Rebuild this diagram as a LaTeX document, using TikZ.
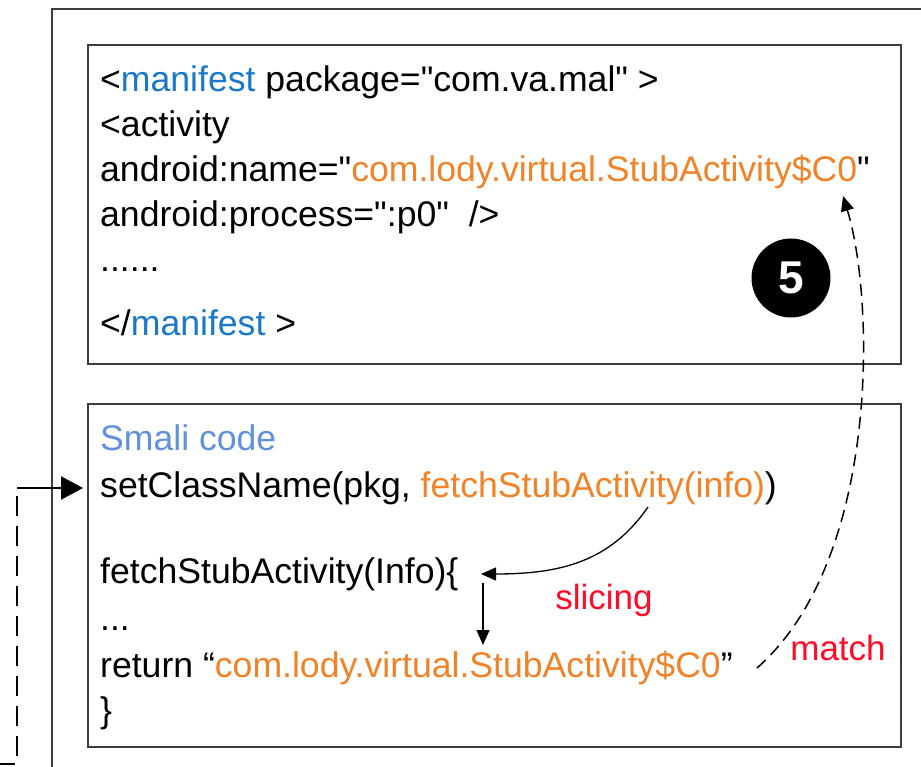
\documentclass[tikz,border=0pt]{standalone}
\usepackage{fontspec}
\setmainfont{Liberation Sans}[Ligatures=TeXOff]
\usetikzlibrary{arrows.meta}
\definecolor{tagblue}{RGB}{25,120,200}
\definecolor{valorange}{RGB}{240,130,40}
\definecolor{headblue}{RGB}{95,145,220}
\definecolor{notered}{RGB}{255,10,40}
\definecolor{framegray}{RGB}{60,60,60}
\begin{document}
\begin{tikzpicture}[x=1pt,y=-1pt,
  code/.style={anchor=base west, inner sep=0pt, font=\fontsize{35.6}{40}\selectfont},
  panel/.style={draw=framegray, line width=2pt, anchor=north west, inner sep=0pt},
  note/.style={inner sep=0pt, text=notered, font=\fontsize{35}{40}\selectfont},
  tip/.style={-{Triangle[length=15pt,width=13pt]}, line width=1.3pt}]
\clip (0,0) rectangle (921,767);
\fill[white] (0,0) rectangle (921,767);

% outer frame (continues past the picture edge)
\draw[framegray, line width=1.8pt] (52,800) -- (52,9) -- (960,9);

% manifest panel
\node[panel, minimum width=813pt, minimum height=319pt] (manifestbox) at (87,44) {};
\node[code] (m1) at (100,92) {<\textcolor{tagblue}{manifest} package="com.va.mal" >};
\node[code] (m2) at (100,137) {<activity};
\node[code] (m3) at (100,182) {android:name="\textcolor{valorange}{com.lody.virtual.StubActivity\$C0}"};
\node[code] (m4) at (100,227) {android:process=":p0"\ \ />};
\node[code] (m5) at (100,272) {......};
\node[code] (m6) at (100,335) {</\textcolor{tagblue}{manifest} >};

% step badge
\node[circle, fill=black, minimum size=79pt, inner sep=0pt, text=white,
      font=\bfseries\fontsize{46}{46}\selectfont] (stepfive) at (791,278) {5};

% smali panel
\node[panel, minimum width=813pt, minimum height=343pt] (smalibox) at (87,403) {};
\node[code, text=headblue] (s0) at (100,450) {Smali code};
\node[code] (s1) at (100,497) {setClassName(pkg, \textcolor{valorange}{fetchStubActivity(info)})};
\node[code] (s2) at (100,583) {fetchStubActivity(Info)\{};
\node[code] (s3) at (100,630) {...};
\node[code] (s4) at (100,677) {return “\textcolor{valorange}{com.lody.virtual.StubActivity\$C0}”};
\node[code] (s5) at (100,722) {\}};

\node[note] (slicing) at (604,600) {slicing};
\node[note] (match) at (838,648) {match};

% slicing arrows
\coordinate (callsite) at (648,507);
\coordinate (defhead) at (481,574);
\coordinate (defbody) at (483,583);
\coordinate (retval) at (483,645);
\draw[tip] (callsite) .. controls (610,562) and (560,574) .. (defhead);
\draw[tip] (defbody) -- (retval);

% match arrow back to the manifest entry
\coordinate (matchfrom) at (757,668);
\coordinate (matchto) at (843,196);
\draw[tip, dash pattern=on 12pt off 7pt, line width=1.5pt]
  (matchfrom) .. controls (880,560) and (875,300) .. (matchto);

% incoming flow from the left
\coordinate (feedstart) at (-5,764);
\coordinate (feedcorner) at (17,488);
\draw[line width=2.4pt, dash pattern=on 20pt off 10pt] (feedstart) -| (feedcorner);
\draw[line width=2.4pt, -{Triangle[length=22pt,width=23pt]}, shorten >=4pt]
  (feedcorner) -- (smalibox.west |- feedcorner);
\end{tikzpicture}
\end{document}
